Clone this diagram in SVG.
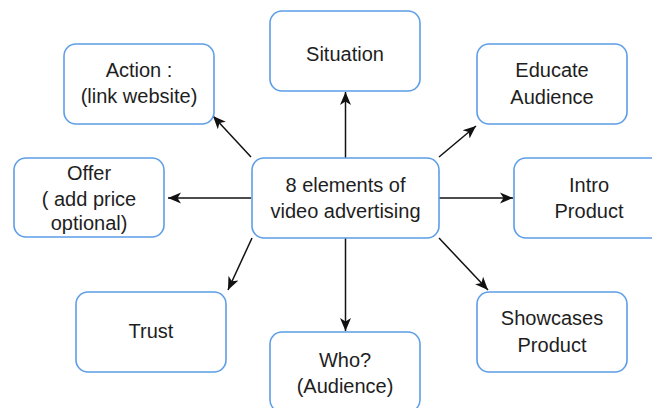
<svg xmlns="http://www.w3.org/2000/svg" width="652" height="408" viewBox="0 0 652 408">
<style>
.box{fill:#ffffff;stroke:#5c9ee8;stroke-width:1.6}
.t{font-family:"Liberation Sans",Arial,sans-serif;font-size:20px;fill:#1e1e1e;text-anchor:middle}
.c{stroke:#111111;stroke-width:1.5;fill:none;marker-end:url(#ah)}
</style>
<defs>
<marker id="ah" markerUnits="userSpaceOnUse" markerWidth="14" markerHeight="12" refX="13" refY="6" orient="auto">
<path d="M0,0.5 L13,6 L0,11.5 L3.5,6 Z" fill="#111111"/>
</marker>
</defs>
<rect width="652" height="408" fill="#ffffff"/>
<g id="connectors">
<line class="c" x1="345.5" y1="158" x2="345.5" y2="92"/>
<line class="c" x1="251" y1="157" x2="213" y2="116"/>
<line class="c" x1="439" y1="157" x2="476" y2="126"/>
<line class="c" x1="251" y1="198" x2="168" y2="198"/>
<line class="c" x1="439" y1="198" x2="513" y2="198"/>
<line class="c" x1="252" y1="238" x2="228" y2="290"/>
<line class="c" x1="345.5" y1="238" x2="345.5" y2="331"/>
<line class="c" x1="439" y1="238" x2="488" y2="290"/>
</g>
<g id="center">
<rect class="box" x="252" y="158" width="187" height="80" rx="12"/>
<text class="t" x="345.5" y="192">8 elements of</text>
<text class="t" x="345.5" y="218">video advertising</text>
</g>
<g id="situation">
<rect class="box" x="270" y="11" width="150" height="80" rx="12"/>
<text class="t" x="345" y="61">Situation</text>
</g>
<g id="action">
<rect class="box" x="64" y="44" width="150" height="80" rx="12"/>
<text class="t" x="139" y="77">Action :</text>
<text class="t" x="139" y="103">(link website)</text>
</g>
<g id="educate">
<rect class="box" x="477" y="44" width="150" height="80" rx="12"/>
<text class="t" x="552" y="77">Educate</text>
<text class="t" x="552" y="104">Audience</text>
</g>
<g id="offer">
<rect class="box" x="14" y="158" width="150" height="79" rx="12"/>
<text class="t" x="89" y="180">Offer</text>
<text class="t" x="89" y="205.5">( add price</text>
<text class="t" x="89" y="230">optional)</text>
</g>
<g id="intro">
<rect class="box" x="514" y="158" width="150" height="80" rx="12"/>
<text class="t" x="589" y="191.5">Intro</text>
<text class="t" x="589" y="218">Product</text>
</g>
<g id="trust">
<rect class="box" x="76" y="292" width="150" height="80" rx="12"/>
<text class="t" x="151" y="338">Trust</text>
</g>
<g id="who">
<rect class="box" x="270" y="332" width="150" height="80" rx="12"/>
<text class="t" x="345" y="366.5">Who?</text>
<text class="t" x="345" y="392.5">(Audience)</text>
</g>
<g id="showcases">
<rect class="box" x="477" y="292" width="150" height="80" rx="12"/>
<text class="t" x="552" y="325">Showcases</text>
<text class="t" x="552" y="351.5">Product</text>
</g>
</svg>
